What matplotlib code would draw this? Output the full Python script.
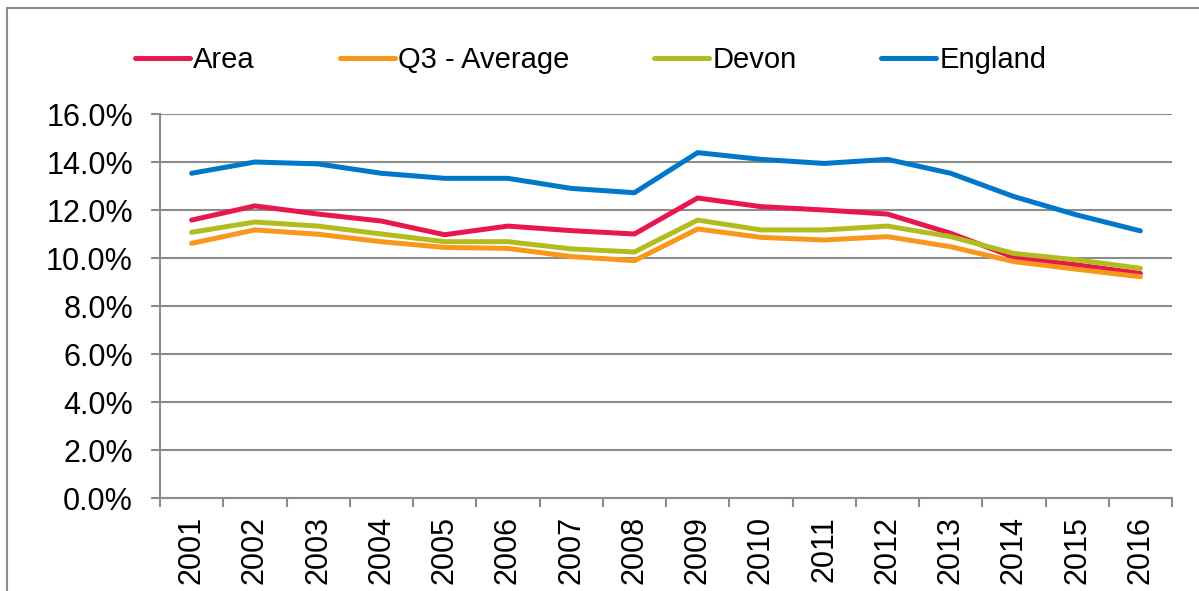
import matplotlib.pyplot as plt
from matplotlib.patches import Rectangle
from matplotlib.ticker import FuncFormatter

years = [str(y) for y in range(2001, 2017)]
area = [11.58, 12.17, 11.83, 11.54, 10.97, 11.33, 11.14, 11.00, 12.50, 12.14, 12.00, 11.83, 11.03, 10.03, 9.71, 9.36]
q3_average = [10.61, 11.17, 10.99, 10.68, 10.44, 10.40, 10.06, 9.89, 11.21, 10.86, 10.75, 10.89, 10.47, 9.85, 9.53, 9.22]
devon = [11.07, 11.50, 11.33, 11.00, 10.68, 10.68, 10.38, 10.25, 11.58, 11.17, 11.17, 11.33, 10.89, 10.19, 9.92, 9.57]
england = [13.53, 14.00, 13.92, 13.53, 13.32, 13.32, 12.90, 12.72, 14.39, 14.11, 13.94, 14.11, 13.53, 12.56, 11.79, 11.13]

series = [("Area", area, "#E8174F"),
          ("Q3 - Average", q3_average, "#F7981D"),
          ("Devon", devon, "#B3BC1D"),
          ("England", england, "#0077C8")]

plt.rcParams['font.family'] = ['Liberation Sans', 'DejaVu Sans']

fig = plt.figure(figsize=(11.99, 5.91), dpi=100)
ax = fig.add_axes([160/1199, 1 - 498/591, (1172-160)/1199, (498-114)/591])

x = list(range(len(years)))
for name, vals, col in series:
    ax.plot(x, vals, color=col, lw=3.6, label=name, solid_capstyle='round', solid_joinstyle='round')

grey = "#8C8C8C"
ax.set_ylim(0, 16)
ax.set_xlim(-0.5, len(years) - 0.5)
ax.set_yticks(range(0, 17, 2))
ax.yaxis.set_major_formatter(FuncFormatter(lambda v, p: "%.1f%%" % v))
ax.grid(axis='y', color=grey, lw=1.5)
ax.set_axisbelow(True)

ax.set_xticks(x)
ax.set_xticklabels(years, rotation=90)
ax.set_xticks([i - 0.5 for i in range(len(years) + 1)], minor=True)
ax.tick_params(axis='x', which='major', length=0, pad=13, labelsize=22)
ax.tick_params(axis='x', which='minor', length=6.5, width=1.5, color=grey)
ax.tick_params(axis='y', length=6.5, width=1.5, color=grey, labelsize=22, pad=13)

for s in ['top', 'right']:
    ax.spines[s].set_visible(False)
for s in ['left', 'bottom']:
    ax.spines[s].set_color(grey)
    ax.spines[s].set_linewidth(1.5)

leg = fig.legend(loc='center left', bbox_to_anchor=(135/1199, 1 - 60/591), ncol=4,
                 frameon=False, fontsize=21, handlelength=1.9, handletextpad=0.1,
                 columnspacing=2.9, borderpad=0, borderaxespad=0)
for h in leg.get_lines():
    h.set_linewidth(3.6)

fig.patches.append(Rectangle((7/1199, -0.1), 1.2, 1 - 8/591 + 0.1, transform=fig.transFigure,
                             fill=False, edgecolor=grey, lw=1.5))

fig.savefig("out.png", dpi=100)
